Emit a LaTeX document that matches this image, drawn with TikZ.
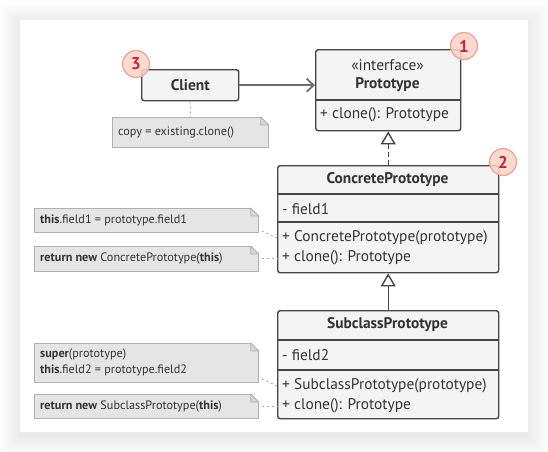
\documentclass[tikz,border=0pt]{standalone}
\usepackage{fontspec}
\setmainfont{PT Sans}
\usetikzlibrary{arrows.meta}

\definecolor{linecol}{HTML}{444444}
\definecolor{boxfill}{HTML}{F4F4F4}
\definecolor{notefill}{HTML}{E5E5E5}
\definecolor{foldfill}{HTML}{D6D6D6}
\definecolor{noteline}{HTML}{B0B0B0}
\definecolor{textcol}{HTML}{333333}
\definecolor{assoccol}{HTML}{6E6E6E}
\definecolor{badgefill}{HTML}{FBD3CA}
\definecolor{badgeline}{HTML}{F2A090}
\definecolor{badgetext}{HTML}{C4213A}

\tikzset{
	classbox/.style={draw=linecol, fill=boxfill, line width=1.4pt,
		rounded corners=2.5pt, anchor=north west, inner sep=0pt},
	notebox/.style={draw=noteline, fill=notefill, line width=0.8pt,
		anchor=north west, inner sep=0pt},
	txt/.style={text=textcol, font=\fontsize{15.4}{18}\selectfont, inner sep=0pt},
	boldtxt/.style={txt, font=\bfseries\fontsize{15.4}{18}\selectfont},
	notetxt/.style={text=textcol, font=\fontsize{12.2}{15.5}\selectfont,
		inner sep=0pt, anchor=west, align=left},
	divider/.style={draw=linecol, line width=1.4pt},
	badge/.style={circle, draw=badgeline, fill=badgefill, fill opacity=0.85,
		text opacity=1, line width=1.2pt, minimum size=27pt, inner sep=0pt,
		text=badgetext, font=\bfseries\fontsize{17}{17}\selectfont},
	assoc/.style={draw=assoccol, line width=1.8pt,
		-{Straight Barb[length=7pt,width=13pt,line width=1.8pt]}},
	inherit/.style={draw=linecol, line width=1.4pt,
		-{Triangle[open,length=13pt,width=15pt,fill=white,line width=1.4pt]}},
	realize/.style={inherit, dash pattern=on 5pt off 3pt},
	notelink/.style={draw=noteline, line width=1pt, dash pattern=on 2pt off 3pt},
}

\begin{document}
\begin{tikzpicture}[x=1pt,y=-1pt]

% card and shadow %{{{2

	\useasboundingbox (0,0) rectangle (548,451);
	\foreach \s in {2,4,...,20}
		\fill[black, fill opacity=0.007] (20-\s,24-\s) rectangle (528+\s,436+\s);
	\fill[white] (20,20) rectangle (528,432);

% class boxes %{{{2

	\node[classbox, minimum width=97pt, minimum height=31pt] (client) at (141,69) {};
	\node[classbox, minimum width=145pt, minimum height=81pt] (proto) at (315,49) {};
	\node[classbox, minimum width=221pt, minimum height=107pt] (concrete) at (277,165) {};
	\node[classbox, minimum width=221pt, minimum height=108pt] (sub) at (277,310) {};

% compartment dividers %{{{2

	\draw[divider] (proto.west |- 0,100) -- (proto.east |- 0,100);
	\draw[divider] (concrete.west |- 0,194) -- (concrete.east |- 0,194);
	\draw[divider] (concrete.west |- 0,222) -- (concrete.east |- 0,222);
	\draw[divider] (sub.west |- 0,340) -- (sub.east |- 0,340);
	\draw[divider] (sub.west |- 0,370) -- (sub.east |- 0,370);

% class texts %{{{2

	\node[boldtxt] at (client) {Client};

	\node[txt] at (387.5,65) {«interface»};
	\node[boldtxt] at (387.5,85) {Prototype};
	\node[txt, anchor=west] at (320,115) {+ clone(): Prototype};

	\node[boldtxt] at (387.5,180) {ConcretePrototype};
	\node[txt, anchor=west] at (282,209) {- field1};
	\node[txt, anchor=west] at (282,238) {+ ConcretePrototype(prototype)};
	\node[txt, anchor=west] at (282,258) {+ clone(): Prototype};

	\node[boldtxt] at (387.5,325) {SubclassPrototype};
	\node[txt, anchor=west] at (282,355) {- field2};
	\node[txt, anchor=west] at (282,386) {+ SubclassPrototype(prototype)};
	\node[txt, anchor=west] at (282,406) {+ clone(): Prototype};

% notes %{{{2

	\node[notebox, minimum width=156pt, minimum height=30pt] (note0) at (112,117) {};
	\node[notebox, minimum width=224pt, minimum height=24pt] (note1) at (34,208) {};
	\node[notebox, minimum width=224pt, minimum height=25pt] (note2) at (34,246) {};
	\node[notebox, minimum width=224pt, minimum height=39pt] (note3) at (34,343) {};
	\node[notebox, minimum width=224pt, minimum height=24pt] (note4) at (34,394) {};

	% folded corners
	\foreach \n in {note0,note1,note2,note3,note4} {
		\fill[white] ([xshift=-8pt]\n.north -| \n.east) -- ([xshift=1pt,yshift=1pt]\n.north -| \n.east)
			-- ([yshift=-8pt]\n.north -| \n.east) -- cycle;
		\draw[noteline, line width=0.8pt, fill=foldfill, line join=round]
			([xshift=-8pt]\n.north -| \n.east) -- ([yshift=-8pt]\n.north -| \n.east)
			-- ([xshift=-8pt,yshift=-8pt]\n.north -| \n.east) -- cycle;
	}

	\node[notetxt] at (118,132) {copy = existing.clone()};
	\node[notetxt] at (40,220) {\textbf{this}.field1 = prototype.field1};
	\node[notetxt] at (40,258.5) {\textbf{return new} ConcretePrototype(\textbf{this})};
	\node[notetxt] at (40,362.5) {\textbf{super}(prototype)\\\textbf{this}.field2 = prototype.field2};
	\node[notetxt] at (40,406) {\textbf{return new} SubclassPrototype(\textbf{this})};

% connectors %{{{2

	\draw[assoc] (client.east) -- (proto.west |- client.east);
	\draw[realize] (concrete.north) -- (proto.south);
	\draw[inherit] (sub.north) -- (concrete.south);

% note links %{{{2

	\coordinate (ctorA) at (concrete.west |- 0,238);
	\coordinate (ctorB) at (sub.west |- 0,386);

	\draw[notelink] (client.south) -- (note0.north);
	\draw[notelink] ([xshift=3pt,yshift=2pt]note1.south east) -- (ctorA);
	\draw[notelink] ([xshift=3pt]note2.east) -- (concrete.west |- note2.east);
	\draw[notelink] ([xshift=3pt,yshift=4pt]note3.south east) -- (ctorB);
	\draw[notelink] ([xshift=3pt]note4.east) -- (sub.west |- note4.east);

% step badges %{{{2

	\node[badge] (b1) at (464,46) {1};
	\node[badge] (b2) at (503,162) {2};
	\node[badge] (b3) at (136,64) {3};

\end{tikzpicture}
\end{document}
